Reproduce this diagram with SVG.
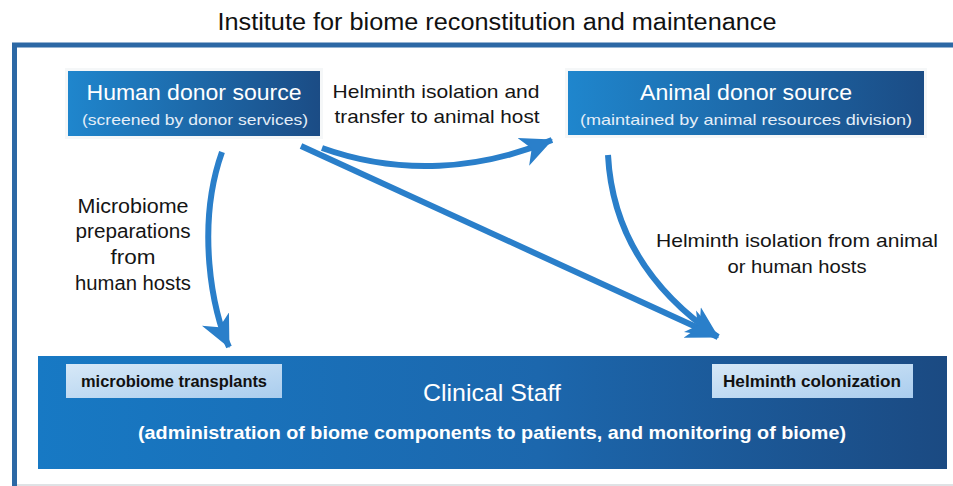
<svg xmlns="http://www.w3.org/2000/svg" width="953" height="486" viewBox="0 0 953 486">
<style>
text{font-family:"Liberation Sans","Open Sans",Arial,sans-serif}
.lbl{font-size:19px;fill:#151515;text-anchor:middle}
.ml{font-size:20px}
.ttl{font-size:22px;fill:#fff;text-anchor:middle}
.sub{font-size:15px;fill:#e4eef8;text-anchor:middle}
.tag{font-size:16px;font-weight:bold;fill:#111;text-anchor:middle}
.conn{fill:none;stroke:#2a7fca;stroke-width:6;stroke-linecap:butt}
</style>
<defs>
<linearGradient id="gBox" x1="0" y1="0" x2="1" y2="0">
<stop offset="0" stop-color="#1f86cd"/>
<stop offset="1" stop-color="#1b4c85"/>
</linearGradient>
<linearGradient id="gClin" x1="0" y1="0" x2="1" y2="0">
<stop offset="0" stop-color="#1779c4"/>
<stop offset="0.55" stop-color="#1c67ad"/>
<stop offset="1" stop-color="#1b4a82"/>
</linearGradient>
<linearGradient id="gTag" x1="0" y1="0" x2="1" y2="1">
<stop offset="0" stop-color="#d6e8f7"/>
<stop offset="1" stop-color="#aacdee"/>
</linearGradient>
<marker id="ah" markerUnits="userSpaceOnUse" viewBox="0 0 32 32" markerWidth="32" markerHeight="32" refX="31" refY="16" orient="auto">
<path d="M0,1 L32,16 L0,31 L9,16 Z" fill="#2a7fca"/>
</marker>
</defs>
<rect width="953" height="486" fill="#fff"/>
<text x="497" y="30" font-size="23" fill="#111" text-anchor="middle" textLength="559" lengthAdjust="spacingAndGlyphs">Institute for biome reconstitution and maintenance</text>
<g id="frame">
<path d="M960,45 H14.5 V490" fill="none" stroke="#2c68a5" stroke-width="5"/>
<line x1="17" y1="485" x2="953" y2="485" stroke="#d4d8dc" stroke-width="1.5"/>
</g>
<g id="human-donor">
<rect x="65" y="68" width="258" height="71" fill="#eef1f4" opacity="0.6"/>
<rect x="68" y="71" width="252" height="65" fill="url(#gBox)"/>
<text class="ttl" x="194" y="100" textLength="215" lengthAdjust="spacingAndGlyphs">Human donor source</text>
<text class="sub" x="195" y="125" textLength="226" lengthAdjust="spacingAndGlyphs">(screened by donor services)</text>
</g>
<g id="animal-donor">
<rect x="565" y="68" width="362" height="70" fill="#eef1f4" opacity="0.6"/>
<rect x="568" y="71" width="356" height="64" fill="url(#gBox)"/>
<text class="ttl" x="746" y="100" textLength="212" lengthAdjust="spacingAndGlyphs">Animal donor source</text>
<text class="sub" x="746" y="125" textLength="332" lengthAdjust="spacingAndGlyphs">(maintained by animal resources division)</text>
</g>
<g id="clinical-staff">
<rect x="38" y="356" width="909" height="113" fill="url(#gClin)"/>
<text x="492" y="401" font-size="24" fill="#fff" text-anchor="middle" textLength="138" lengthAdjust="spacingAndGlyphs">Clinical Staff</text>
<text x="492" y="439" font-size="19" font-weight="bold" fill="#fff" text-anchor="middle" textLength="708" lengthAdjust="spacingAndGlyphs">(administration of biome components to patients, and monitoring of biome)</text>
</g>
<g id="microbiome-transplants">
<rect x="66" y="364" width="216" height="34" fill="url(#gTag)"/>
<text class="tag" x="174" y="387" textLength="186" lengthAdjust="spacingAndGlyphs">microbiome transplants</text>
</g>
<g id="helminth-colonization">
<rect x="712" y="364" width="201" height="34" fill="url(#gTag)"/>
<text class="tag" x="812" y="387" textLength="178" lengthAdjust="spacingAndGlyphs">Helminth colonization</text>
</g>
<g id="connectors">
<path class="conn" d="M222,152 C196,225 212,312 229,347" marker-end="url(#ah)"/>
<path class="conn" d="M322,148 C400,176 480,170 552,140" marker-end="url(#ah)"/>
<path class="conn" d="M301,146 L718,337" marker-end="url(#ah)"/>
<path class="conn" d="M608,155 C612,232 652,292 718,337" marker-end="url(#ah)"/>
</g>
<g id="labels">
<text class="lbl" x="436" y="98" textLength="207" lengthAdjust="spacingAndGlyphs">Helminth isolation and</text>
<text class="lbl" x="437" y="123" textLength="205" lengthAdjust="spacingAndGlyphs">transfer to animal host</text>
<text class="lbl ml" x="133" y="213" textLength="111" lengthAdjust="spacingAndGlyphs">Microbiome</text>
<text class="lbl ml" x="133" y="238" textLength="115" lengthAdjust="spacingAndGlyphs">preparations</text>
<text class="lbl ml" x="133" y="264" textLength="45" lengthAdjust="spacingAndGlyphs">from</text>
<text class="lbl ml" x="133" y="290" textLength="116" lengthAdjust="spacingAndGlyphs">human hosts</text>
<text class="lbl" x="797" y="247" textLength="282" lengthAdjust="spacingAndGlyphs">Helminth isolation from animal</text>
<text class="lbl" x="797" y="273" textLength="139" lengthAdjust="spacingAndGlyphs">or human hosts</text>
</g>
</svg>
